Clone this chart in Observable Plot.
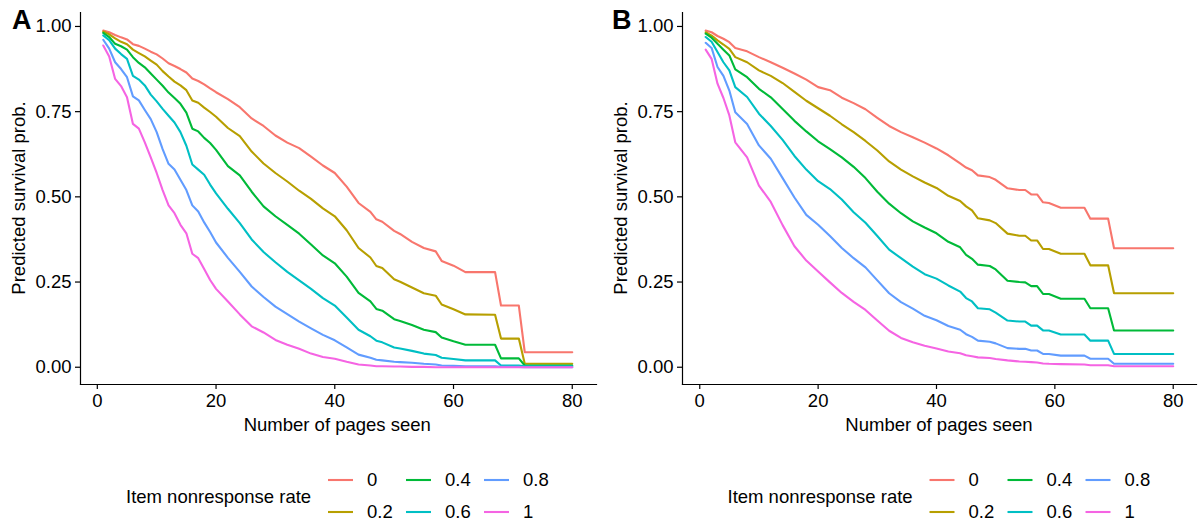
<!DOCTYPE html>
<html><head><meta charset="utf-8">
<script src="https://cdn.jsdelivr.net/npm/d3@7"></script>
<script src="https://cdn.jsdelivr.net/npm/@observablehq/plot@0.6"></script>
<style>
html,body{margin:0;padding:0;background:#fff;}
#wrap{position:relative;width:1200px;height:526px;overflow:hidden;font-family:"Liberation Sans",Arial,sans-serif;}
.panel{position:absolute;top:0;width:600px;height:526px;}
.panel svg{display:block;}
.legend{position:absolute;left:0;top:440px;}
.plabel{position:absolute;left:12px;top:5px;font:bold 27px "Liberation Sans",Arial,sans-serif;color:#000;line-height:30px;}
</style></head><body><div id="wrap"></div>
<script>
const rates = ["0","0.2","0.4","0.6","0.8","1"];
const colors = ["#F8766D","#B79F00","#00BA38","#00BFC4","#619CFF","#F564E3"];
const xTicks = [0,20,40,60,80];
const yTicks = [0,0.25,0.5,0.75,1];
const panelLabels = ["A","B"];
const xTitle = "Number of pages seen";
const yTitle = "Predicted survival prob.";
const legendTitle = "Item nonresponse rate";

// Panel A
const pagesA = [1,2,3,4,5,6,7,8,9,10,11,12,13,14,15,16,17,18,19,20,22,24,26,28,30,32,34,36,38,40,42,44,46,47,48,50,51,53,55,57,58,60,62,67,68,71,72,80];
const survA_0 = [0.988,0.983,0.975,0.968,0.962,0.948,0.943,0.935,0.926,0.918,0.906,0.892,0.884,0.875,0.865,0.847,0.840,0.830,0.818,0.807,
  0.787,0.763,0.730,0.708,0.680,0.659,0.643,0.618,0.592,0.570,0.530,0.482,
  0.456,0.434,0.427,
  0.400,0.391,0.368,0.350,0.340,0.312,0.298,0.279,
  0.279,0.181,0.181,0.044,0.044];
const survA_02 = [0.985,0.977,0.965,0.955,0.948,0.932,0.922,0.912,0.900,0.888,0.869,0.853,0.838,0.827,0.813,0.783,0.776,0.762,0.749,0.735,
  0.702,0.678,0.633,0.598,0.570,0.545,0.518,0.494,0.466,0.443,0.402,0.350,
  0.322,0.297,0.291,
  0.258,0.251,0.234,0.217,0.210,0.184,0.170,0.155,
  0.154,0.084,0.084,0.010,0.010];
const survA_04 = [0.981,0.969,0.949,0.942,0.932,0.910,0.893,0.880,0.862,0.844,0.826,0.806,0.790,0.773,0.747,0.700,0.692,0.673,0.658,0.638,
  0.590,0.563,0.515,0.472,0.443,0.418,0.392,0.360,0.328,0.305,0.266,0.218,
  0.193,0.171,0.166,
  0.141,0.136,0.124,0.110,0.103,0.087,0.076,0.066,
  0.066,0.026,0.026,0.005,0.005];
const survA_06 = [0.974,0.960,0.935,0.919,0.905,0.855,0.844,0.827,0.800,0.780,0.758,0.738,0.718,0.690,0.650,0.595,0.580,0.565,0.536,0.510,
  0.465,0.423,0.375,0.338,0.308,0.280,0.255,0.230,0.203,0.181,0.146,0.110,
  0.091,0.078,0.073,
  0.058,0.055,0.048,0.040,0.036,0.028,0.024,0.020,
  0.020,0.005,0.005,0.003,0.003];
const survA_08 = [0.961,0.935,0.895,0.875,0.851,0.795,0.783,0.755,0.728,0.690,0.640,0.597,0.580,0.550,0.520,0.475,0.457,0.425,0.397,0.366,
  0.321,0.280,0.237,0.206,0.178,0.156,0.134,0.114,0.095,0.079,0.058,0.037,
  0.028,0.022,0.020,
  0.016,0.015,0.013,0.010,0.008,0.005,0.004,0.003,
  0.003,0.001,0.001,0.000,0.000];
const survA_1 = [0.944,0.912,0.846,0.825,0.792,0.714,0.700,0.660,0.616,0.570,0.520,0.475,0.452,0.418,0.393,0.333,0.320,0.288,0.256,0.230,
  0.193,0.155,0.120,0.102,0.080,0.066,0.054,0.040,0.030,0.025,0.016,0.008,
  0.005,0.003,0.003,
  0.002,0.002,0.001,0.001,0.000,0.000,0.000,0.000,
  0.000,0.000,0.000,0.000,0.000];

// Panel B
const pagesB = [1,2,3,4,5,6,8,10,12,14,16,18,20,22,24,26,28,30,32,34,36,38,40,42,44,45,46,47,49,50,52,54,55,56,57,58,59,61,65,66,69,70,80];
const survB_0 = [0.988,0.983,0.972,0.964,0.954,0.937,
  0.927,0.910,0.895,0.879,0.862,0.844,0.822,0.813,0.791,0.775,0.757,0.732,0.708,0.690,0.675,0.659,0.642,0.622,0.598,
  0.586,0.578,0.563,0.558,0.550,
  0.525,0.520,0.520,0.507,0.507,0.484,0.482,0.468,
  0.468,0.436,0.436,0.349,0.349];
const survB_02 = [0.983,0.973,0.959,0.947,0.934,0.910,
  0.895,0.871,0.855,0.834,0.808,0.782,0.760,0.738,0.713,0.690,0.664,0.636,0.604,0.580,0.560,0.542,0.526,0.503,0.488,
  0.472,0.460,0.437,0.431,0.423,
  0.392,0.386,0.386,0.372,0.372,0.347,0.347,0.333,
  0.333,0.299,0.299,0.217,0.217];
const survB_04 = [0.979,0.967,0.949,0.932,0.915,0.874,
  0.851,0.817,0.792,0.758,0.723,0.692,0.663,0.640,0.616,0.588,0.555,0.515,0.480,0.452,0.428,0.410,0.393,0.368,0.352,
  0.330,0.318,0.301,0.297,0.287,
  0.254,0.250,0.249,0.238,0.238,0.215,0.215,0.201,
  0.201,0.173,0.173,0.108,0.108];
const survB_06 = [0.969,0.955,0.925,0.895,0.871,0.822,
  0.793,0.744,0.708,0.667,0.620,0.580,0.546,0.523,0.492,0.455,0.424,0.385,0.345,0.320,0.295,0.273,0.260,0.240,0.222,
  0.203,0.193,0.173,0.170,0.160,
  0.137,0.134,0.134,0.122,0.122,0.108,0.108,0.096,
  0.096,0.078,0.078,0.039,0.039];
const survB_08 = [0.952,0.937,0.881,0.855,0.812,0.748,
  0.714,0.651,0.612,0.555,0.498,0.447,0.418,0.385,0.350,0.320,0.293,0.255,0.217,0.191,0.172,0.151,0.138,0.121,0.110,
  0.097,0.089,0.078,0.075,0.070,
  0.056,0.054,0.054,0.049,0.049,0.039,0.039,0.034,
  0.034,0.025,0.025,0.010,0.010];
const survB_1 = [0.932,0.905,0.832,0.790,0.739,0.660,
  0.616,0.533,0.485,0.417,0.355,0.313,0.281,0.249,0.218,0.192,0.168,0.137,0.107,0.086,0.073,0.063,0.055,0.046,0.041,
  0.035,0.032,0.029,0.027,0.024,
  0.020,0.017,0.016,0.015,0.014,0.011,0.010,0.009,
  0.008,0.006,0.006,0.003,0.003];

function rows(pages, series) {
  const out = [];
  series.forEach((vals, i) => vals.forEach((v, j) => out.push({page: pages[j], surv: v, rate: rates[i]})));
  return out;
}

const FONT = '"Liberation Sans", Arial, Helvetica, sans-serif';
const wrap = document.getElementById("wrap");

function makePanel(idx, data, left, xRange, legendDx) {
  const div = document.createElement("div");
  div.className = "panel";
  div.style.left = (idx * 600) + "px";
  wrap.appendChild(div);

  const chart = Plot.plot({
    width: 600, height: 440,
    marginLeft: left, marginRight: 4, marginTop: 12, marginBottom: 56,
    style: {fontFamily: FONT, fontSize: "18.5px", color: "#000", background: "#fff", overflow: "visible"},
    x: {domain: [-2.95, 83.95], range: xRange},
    y: {domain: [-0.0495, 1.0395], range: [383.6, 12.5]},
    color: {domain: rates, range: colors},
    marks: [
      Plot.lineY(data, {x: "page", y: "surv", stroke: "rate", z: "rate", strokeWidth: 2.1, strokeLinejoin: "round"}),
      Plot.axisX({ticks: xTicks, tickSize: 5, tickPadding: 4, label: null, strokeWidth: 1.2}),
      Plot.axisY({ticks: yTicks, tickFormat: d3.format(".2f"), tickSize: 5, tickPadding: 4, label: null, strokeWidth: 1.2}),
      Plot.frame({anchor: "left", strokeWidth: 1.2}),
      Plot.frame({anchor: "bottom", strokeWidth: 1.2})
    ]
  });
  div.appendChild(chart);
  const svg = d3.select(chart);
  const cx = (xRange[0] + xRange[1]) / 2;
  svg.append("text").attr("x", cx).attr("y", 431).attr("text-anchor", "middle")
    .attr("font-family", FONT).attr("font-size", 18.5).attr("fill", "#000").text(xTitle);
  svg.append("text").attr("transform", `translate(${25 + (left - 80)},198) rotate(-90)`).attr("text-anchor", "middle")
    .attr("font-family", FONT).attr("font-size", 18.5).attr("fill", "#000").text(yTitle);

  const lab = document.createElement("div");
  lab.className = "plabel";
  lab.textContent = panelLabels[idx];
  div.appendChild(lab);

  // legend
  const color = chart.scale("color");
  const lg = d3.select(div).append("svg").attr("class", "legend")
    .attr("width", 600).attr("height", 86).style("font-family", FONT).style("font-size", "18.5px");
  lg.append("text").attr("x", 126 + legendDx).attr("y", 57).attr("dy", "0.35em").attr("fill", "#000").text(legendTitle);
  rates.forEach((r, i) => {
    const col = Math.floor(i / 2), row = i % 2;
    const x0 = 328 + legendDx + col * 78;
    const y0 = 40 + row * 32;
    lg.append("line").attr("x1", x0).attr("x2", x0 + 25).attr("y1", y0).attr("y2", y0)
      .attr("stroke", color.apply(r)).attr("stroke-width", 2.1);
    lg.append("text").attr("x", x0 + 39).attr("y", y0).attr("dy", "0.35em").attr("fill", "#000").text(r);
  });
}

makePanel(0, rows(pagesA, [survA_0, survA_02, survA_04, survA_06, survA_08, survA_1]), 80, [79.3, 595.2], 0);
makePanel(1, rows(pagesB, [survB_0, survB_02, survB_04, survB_06, survB_08, survB_1]), 82, [81.8, 596.1], 1.5);
</script></body></html>
